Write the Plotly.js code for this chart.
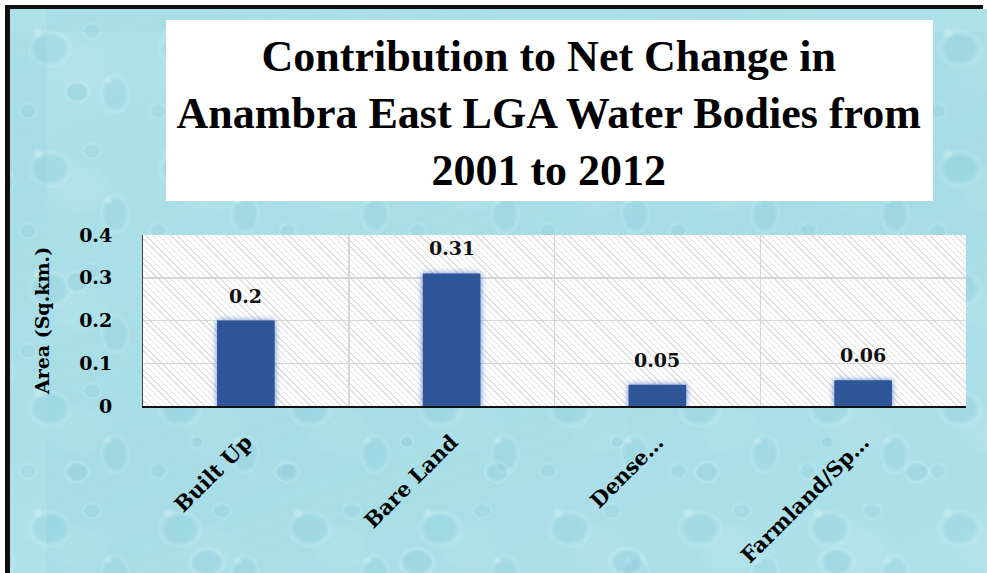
<!DOCTYPE html>
<html>
<head>
<meta charset="utf-8">
<script src="https://cdn.plot.ly/plotly-3.0.1.min.js"></script>
<style>
  html, body { margin: 0; padding: 0; background: #ffffff; }
  #stage { position: relative; width: 987px; height: 573px; overflow: hidden; background: #ffffff; }
  #texture {
    position: absolute; left: 10px; top: 9px; width: 977px; height: 564px;
    background-color: #aadee7;
    background-image:
      radial-gradient(ellipse 6px 5px at 28px 24px, rgba(240,252,253,0.35) 0 40%, rgba(255,255,255,0) 100%),
      radial-gradient(ellipse 24px 20px at 40px 40px, rgba(130,198,212,0.3) 0 60%, rgba(205,240,245,0.3) 85%, rgba(172,224,233,0) 100%),
      radial-gradient(ellipse 5px 4px at 98px 72px, rgba(240,252,253,0.3) 0 40%, rgba(255,255,255,0) 100%),
      radial-gradient(ellipse 16px 22px at 105px 85px, rgba(130,198,212,0.28) 0 60%, rgba(205,240,245,0.28) 85%, rgba(172,224,233,0) 100%),
      radial-gradient(ellipse 11px 9px at 82px 22px, rgba(135,200,214,0.26) 0 60%, rgba(210,242,246,0.26) 85%, rgba(172,224,233,0) 100%),
      radial-gradient(ellipse 10px 9px at 18px 102px, rgba(135,200,214,0.26) 0 60%, rgba(210,242,246,0.26) 85%, rgba(172,224,233,0) 100%),
      radial-gradient(ellipse 34px 28px at 70px 60px, rgba(196,236,242,0.22) 0 60%, rgba(172,224,233,0) 100%);
    background-size: 130px 120px;
  }
  #texture2 {
    position: absolute; left: 10px; top: 9px; width: 977px; height: 564px;
    background-image:
      radial-gradient(ellipse 14px 12px at 30px 60px, rgba(125,195,210,0.26) 0 60%, rgba(215,244,248,0.26) 85%, rgba(172,224,233,0) 100%),
      radial-gradient(ellipse 8px 7px at 150px 30px, rgba(125,195,210,0.26) 0 60%, rgba(215,244,248,0.26) 85%, rgba(172,224,233,0) 100%),
      radial-gradient(ellipse 20px 16px at 160px 150px, rgba(125,195,210,0.26) 0 60%, rgba(215,244,248,0.26) 85%, rgba(172,224,233,0) 100%),
      linear-gradient(160deg, rgba(190,235,242,0.25), rgba(150,210,222,0.15) 50%, rgba(190,235,242,0.25));
    background-size: 210px 190px, 210px 190px, 210px 190px, 100% 100%;
    background-position: 37px 23px;
  }
  #borderTop { position: absolute; left: 5px; top: 5px; width: 978px; height: 4px; background: #111; }
  #borderLeft { position: absolute; left: 5px; top: 5px; width: 5px; height: 568px; background: #111; }
  #titleBox { position: absolute; left: 166px; top: 20px; width: 767px; height: 181px; background: #ffffff; }
  #hatch {
    position: absolute; left: 143px; top: 235px; width: 823px; height: 171px;
    background-color: #ffffff;
    background-image: repeating-linear-gradient(45deg, #ffffff 0px, #ffffff 3.4px, #dedede 3.4px, #dedede 4.4px);
  }
  #chart { position: absolute; left: 0; top: 0; width: 987px; height: 573px; }
  #chart .bars path { filter: drop-shadow(0 0 3px rgba(70,110,200,0.85)); }
</style>
</head>
<body>
<div id="stage">
  <div id="texture"></div>
  <div id="texture2"></div>
  <div id="borderTop"></div>
  <div id="borderLeft"></div>
  <div id="titleBox"></div>
  <div id="hatch"></div>
  <div id="chart"></div>
</div>
<script>
const categories = ["Built Up", "Bare Land", "Dense\u2026", "Farmland/Sp\u2026"];
const areaValues = [0.2, 0.31, 0.05, 0.06];
const valueLabels = ["0.2", "0.31", "0.05", "0.06"];
const yTickValues = [0, 0.1, 0.2, 0.3, 0.4];
const yTickLabels = ["0", "0.1", "0.2", "0.3", "0.4"];

const serifBold = "DejaVu Serif";

const trace = {
  type: "bar",
  x: categories,
  y: areaValues,
  marker: { color: "#2e5597" },
  width: 0.28,
  hoverinfo: "x+y"
};

const annotations = categories.map((c, i) => ({
  x: c, y: areaValues[i], xref: "x", yref: "y",
  text: "<b>" + valueLabels[i] + "</b>",
  showarrow: false, yanchor: "bottom", yshift: 12,
  font: { family: serifBold, size: 19, color: "#111" }
}));

const layout = {
  width: 987, height: 573,
  margin: { l: 143, r: 21, t: 235, b: 167 },
  paper_bgcolor: "rgba(0,0,0,0)",
  plot_bgcolor: "rgba(0,0,0,0)",
  showlegend: false,
  title: {
    text: "<b>Contribution to Net Change in<br>Anambra East LGA Water Bodies from<br>2001 to 2012</b>",
    font: { family: "Liberation Serif", size: 44, color: "#000" },
    x: 0.556, xanchor: "center",
    y: 0.876, yanchor: "middle", yref: "container"
  },
  xaxis: {
    type: "category",
    categoryorder: "array", categoryarray: categories,
    tickangle: -45,
    tickfont: { family: serifBold, size: 21, color: "#000" },
    showgrid: true, gridcolor: "#d6d6d6", gridwidth: 1.5,
    tickson: "boundaries",
    ticks: "", ticklabelstandoff: 14,
    showline: true, linecolor: "#111", linewidth: 1.5,
    fixedrange: true
  },
  yaxis: {
    range: [0, 0.4],
    tickvals: yTickValues, ticktext: yTickLabels.map(t => "<b>" + t + "</b>"),
    tickfont: { family: serifBold, size: 19, color: "#000" },
    showgrid: true, gridcolor: "#d6d6d6", gridwidth: 1.5,
    zeroline: false,
    showline: true, linecolor: "#444", linewidth: 1,
    ticks: "outside", ticklen: 26, tickcolor: "rgba(0,0,0,0)",
    title: {
      text: "<b>Area (Sq.km.)</b>",
      font: { family: serifBold, size: 19, color: "#000" },
      standoff: 24
    },
    fixedrange: true
  },
  annotations: annotations
};

layout.xaxis.tickvals = categories;
layout.xaxis.ticktext = categories.map(c => "<b>" + c + "</b>");

Plotly.newPlot("chart", [trace], layout, { displayModeBar: false, staticPlot: true });
</script>
</body>
</html>
